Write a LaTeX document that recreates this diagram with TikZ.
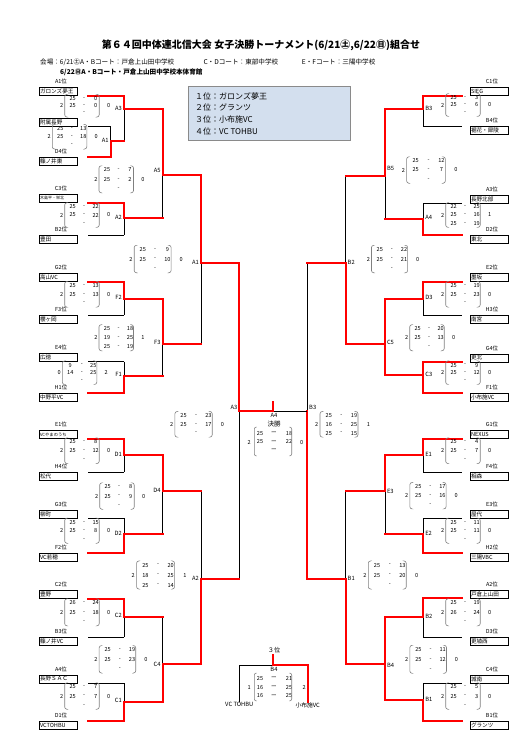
\documentclass[tikz,border=0pt]{standalone}
\usepackage{fontspec}
\setmainfont{Noto Sans CJK JP}
\definecolor{legendblue}{HTML}{D3DFEE}
\definecolor{legendedge}{HTML}{8A8A8A}
\definecolor{bracketred}{HTML}{FF0000}
\tikzset{
 win/.style={draw=bracketred, line width=1.8pt, line cap=rect},
 lose/.style={draw=black, line width=0.7pt},
 team/.style={draw, line width=0.8pt, minimum width=38pt, minimum height=8pt, inner xsep=1pt, inner ysep=0pt, text width=36pt, align=left, font=\fontsize{5.6}{6}\selectfont},
 rank/.style={font=\fontsize{5.5}{6}\selectfont, inner sep=0pt},
 mlab/.style={font=\fontsize{5.8}{6}\selectfont, inner sep=0.5pt},
 sc/.style={font=\fontsize{5.6}{6}\selectfont, inner sep=0pt},
 paren/.style={draw=gray, line width=0.6pt, rounded corners=2.2pt},
 sub/.style={font=\fontsize{6.6}{7}\selectfont, inner sep=0pt},
 leg/.style={font=\fontsize{8}{9}\selectfont, inner sep=0pt},
}
\newcommand{\teamL}[5]{%
  \node[team,anchor=#3] (#1) at (58,#2) {#5};
  \path (#1.north) ++(3,-5.5) node[rank] {#4};
  \coordinate (#1l) at (88,#2);}
\newcommand{\teamR}[5]{%
  \node[team,anchor=#3] (#1) at (489,#2) {#5};
  \path (#1.north) ++(3,-5.5) node[rank] {#4};
  \coordinate (#1l) at (461.7,#2);}
\newcommand{\mtch}[7]{%
  \coordinate (#1t) at (#2,#3);
  \coordinate (#1b) at (#2,#4);
  \coordinate (#1o) at (#2,#5);
  \draw[#6] (#1t) -- (#1o);
  \draw[#7] (#1o) -- (#1b);}
\newcommand{\scoreblk}[7]{%
  \begin{scope}[shift={(#1,#2)}]
  \pgfmathsetmacro{\sS}{#4}
  \pgfmathsetmacro{\sH}{#3+4}
  \node[sc] at (0,0) {#5};
  \node[sc] at (47*\sS,0) {#7};
  \foreach \a/\b [count=\i] in {#6} {
    \node[sc] at (11*\sS,{(\i-2)*#3}) {\a};
    \node[sc] at (22.5*\sS,{(\i-2)*#3}) {-};
    \node[sc] at (34*\sS,{(\i-2)*#3}) {\b};}
  \draw[paren] (3*\sS+2,-\sH) -- (3*\sS,-\sH) -- (3*\sS,\sH) -- (3*\sS+2,\sH);
  \draw[paren] (37.5*\sS-2,-\sH) -- (37.5*\sS,-\sH) -- (37.5*\sS,\sH) -- (37.5*\sS-2,\sH);
  \end{scope}}
\begin{document}
\begin{tikzpicture}[x=1pt,y=-1pt]
\useasboundingbox (0,0) rectangle (526,747);
% header
\node[font=\bfseries\fontsize{10}{12}\selectfont] (title) at (261,45.7) {第６４回中体連北信大会 女子決勝トーナメント(6/21㊏,6/22㊐)組合せ};
\node[sub,anchor=west] (s1) at (40,62.3) {会場：6/21㊏A・Bコート：戸倉上山田中学校};
\node[sub,anchor=west] (s2) at (203.3,62.3) {C・Dコート：東部中学校};
\node[sub,anchor=west] (s3) at (301.7,62.3) {E・Fコート：三陽中学校};
\node[sub,anchor=west,font=\bfseries\fontsize{6.6}{7}\selectfont] (s4) at (60,72.3) {6/22㊐A・Bコート・戸倉上山田中学校本体育館};
% legend
\node[draw=legendedge, fill=legendblue, line width=1pt, minimum width=162pt, minimum height=54pt, inner sep=0pt, anchor=north west] (legend) at (188.3,86) {};
\node[leg,anchor=west] (r1) at (195,96) {１位：ガロンズ夢王};
\node[leg,anchor=west] (r2) at (195,107.8) {２位：グランツ};
\node[leg,anchor=west] (r3) at (195,119.5) {３位：小布施VC};
\node[leg,anchor=west] (r4) at (195,131.2) {４位：VC TOHBU};
% left teams
\teamL{L1}{96}{south}{A1位}{ガロンズ夢王}
\teamL{L2}{126.7}{south}{}{附属長野}
\teamL{L3}{156.7}{north}{D4位}{篠ノ井東}
\teamL{L4}{202.7}{south}{C3位}{{\fontsize{4}{4}\selectfont 木島平・栄北}}
\teamL{L5}{235}{north}{B2位}{豊田}
\teamL{L6}{281.7}{south}{G2位}{高山VC}
\teamL{L7}{315}{north}{F3位}{櫻ヶ岡}
\teamL{L8}{361.7}{south}{E4位}{広徳}
\teamL{L9}{392.7}{north}{H1位}{中野平VC}
\teamL{L10}{439}{south}{E1位}{{\fontsize{4.3}{4.3}\selectfont VCやまのうち}}
\teamL{L11}{472.3}{north}{H4位}{松代}
\teamL{L12}{518.3}{south}{G3位}{柳町}
\teamL{L13}{552.7}{north}{F2位}{VC若穂}
\teamL{L14}{599}{south}{C2位}{豊野}
\teamL{L15}{637.3}{north}{B3位}{篠ノ井VC}
\teamL{L16}{683.3}{south}{A4位}{長野ＳＡＣ}
\teamL{L17}{721}{north}{D1位}{VCTOHBU}
% right teams
\teamR{R1}{95.7}{south}{C1位}{SIEG}
\teamR{R2}{126}{north}{B4位}{裾花・犀陵}
\teamR{R3}{203.3}{south}{A3位}{長野北部}
\teamR{R4}{235}{north}{D2位}{東北}
\teamR{R5}{281.7}{south}{E2位}{墨坂}
\teamR{R6}{315}{north}{H3位}{南宮}
\teamR{R7}{362.3}{south}{G4位}{更北}
\teamR{R8}{392.7}{north}{F1位}{小布施VC}
\teamR{R9}{439}{south}{G1位}{NEXUS}
\teamR{R10}{472.3}{north}{F4位}{相森}
\teamR{R11}{518.3}{south}{E3位}{屋代}
\teamR{R12}{552.7}{north}{H2位}{三陽VBC}
\teamR{R13}{598.3}{south}{A2位}{戸倉上山田}
\teamR{R14}{637.3}{north}{D3位}{更埴西}
\teamR{R15}{683.3}{south}{C4位}{城南}
\teamR{R16}{720.7}{north}{B1位}{グランツ}
% left matches
\mtch{mA3}{124}{96}{141}{109}{win}{lose}
\mtch{mA1}{110.7}{126.7}{156.7}{141}{lose}{win}
\mtch{mA2}{124}{202.7}{235}{218.3}{win}{lose}
\mtch{mA5}{162.7}{109}{218.3}{175}{win}{lose}
\mtch{mF2}{124}{281.7}{315}{299.3}{win}{lose}
\mtch{mF1}{124}{361.7}{392.7}{375.7}{lose}{win}
\mtch{mF3}{162.7}{299.3}{375.7}{344}{win}{lose}
\mtch{mAA1}{201}{175}{344}{262.7}{win}{lose}
\mtch{mD1}{124}{439}{472.3}{455}{win}{lose}
\mtch{mD2}{124}{518.3}{552.7}{534.3}{lose}{win}
\mtch{mD4}{162.7}{455}{534.3}{490.7}{win}{lose}
\mtch{mC2}{124}{599}{637.3}{616.7}{win}{lose}
\mtch{mC1}{124}{683.3}{721}{701.7}{lose}{win}
\mtch{mC4}{162.7}{616.7}{701.7}{664.3}{lose}{win}
\mtch{mAA2}{201}{490.7}{664.3}{579.3}{lose}{win}
\mtch{mAA3}{239.3}{262.7}{579.3}{411}{win}{lose}
% right matches
\mtch{mB3}{423.3}{95.7}{126}{109}{win}{lose}
\mtch{mA4}{423.3}{203.3}{235}{219}{lose}{win}
\mtch{mB5}{385}{109}{219}{176}{win}{lose}
\mtch{mD3}{423.3}{281.7}{315}{299.3}{win}{lose}
\mtch{mC3}{423.3}{362.3}{392.7}{375}{win}{win}
\mtch{mC5}{385}{299.3}{375}{344}{win}{win}
\mtch{mBB2}{345.7}{176}{344}{262.7}{lose}{win}
\mtch{mE1}{423.3}{439}{472.3}{455}{win}{lose}
\mtch{mE2}{423.3}{518.3}{552.7}{534.3}{lose}{win}
\mtch{mE3}{385}{455}{534.3}{490.7}{win}{lose}
\mtch{mB2}{423.3}{598.3}{637.3}{616.7}{win}{lose}
\mtch{mB1}{423.3}{683.3}{720.7}{700}{lose}{win}
\mtch{mB4}{385}{616.7}{700}{664.3}{win}{win}
\mtch{mBB1}{345.7}{490.7}{664.3}{579.3}{lose}{win}
\mtch{mBB3}{307.3}{262.7}{579.3}{411}{lose}{win}
% team lines left
\draw[win] (L1l) -- (mA3t);   \draw[lose] (L2l) -- (mA1t);  \draw[win] (L3l) -- (mA1b);
\draw[win] (L4l) -- (mA2t);   \draw[lose] (L5l) -- (mA2b);
\draw[win] (L6l) -- (mF2t);   \draw[lose] (L7l) -- (mF2b);
\draw[lose] (L8l) -- (mF1t);  \draw[win] (L9l) -- (mF1b);
\draw[win] (L10l) -- (mD1t);  \draw[lose] (L11l) -- (mD1b);
\draw[lose] (L12l) -- (mD2t); \draw[win] (L13l) -- (mD2b);
\draw[win] (L14l) -- (mC2t);  \draw[lose] (L15l) -- (mC2b);
\draw[lose] (L16l) -- (mC1t); \draw[win] (L17l) -- (mC1b);
% team lines right
\draw[win] (R1l) -- (mB3t);   \draw[lose] (R2l) -- (mB3b);
\draw[lose] (R3l) -- (mA4t);  \draw[win] (R4l) -- (mA4b);
\draw[win] (R5l) -- (mD3t);   \draw[lose] (R6l) -- (mD3b);
\draw[win] (R7l) -- (mC3t);   \draw[win] (R8l) -- (mC3b);
\draw[win] (R9l) -- (mE1t);   \draw[lose] (R10l) -- (mE1b);
\draw[lose] (R11l) -- (mE2t); \draw[win] (R12l) -- (mE2b);
\draw[win] (R13l) -- (mB2t);  \draw[lose] (R14l) -- (mB2b);
\draw[lose] (R15l) -- (mB1t); \draw[win] (R16l) -- (mB1b);
% winners' lines between rounds
\foreach \s/\d in {mA1o/mA3b, mA3o/mA5t, mA2o/mA5b, mA5o/mAA1t, mF2o/mF3t, mF1o/mF3b, mF3o/mAA1b, mAA1o/mAA3t,
  mD1o/mD4t, mD2o/mD4b, mD4o/mAA2t, mC2o/mC4t, mC1o/mC4b, mC4o/mAA2b, mAA2o/mAA3b,
  mB3o/mB5t, mA4o/mB5b, mB5o/mBB2t, mD3o/mC5t, mC3o/mC5b, mC5o/mBB2b, mBB2o/mBB3t,
  mE1o/mE3t, mE2o/mE3b, mE3o/mBB1t, mB2o/mB4t, mB1o/mB4b, mB4o/mBB1b, mBB1o/mBB3b}
  \draw[win] (\s) -- (\d);
% final
\coordinate (fm) at (273.3,411);
\coordinate (ftop) at (273.3,401.7);
\draw[lose] (fm) -- (mBB3o);
\draw[win] (mAA3o) -- (fm) -- (ftop);
% third place
\node[mlab,font=\fontsize{6.2}{7}\selectfont] (t3lab) at (274,650) {３位};
\node[mlab] (t3b4) at (274,669) {B4};
\node[mlab,anchor=north] (t3L) at (239.3,701.7) {VC TOHBU};
\node[mlab,anchor=north] (t3R) at (307.7,701.7) {小布施VC};
\coordinate (t3M) at (272.7,665);
\coordinate (t3top) at (272.7,655.3);
\draw[lose] (t3L.north) |- (t3M);
\draw[win] (t3R.north) |- (t3M) -- (t3top);
% match labels left
\foreach \t/\x/\y in {A3/122.5/108, A1/109.3/140.2, A2/122.5/217.3, F2/122.5/297.7, F1/122.5/374.8,
  D1/122.5/454.5, D2/122.5/533.8, C2/122.5/615.7, C1/122.5/700.5,
  A5/161.3/170.5, F3/161.3/342.5, D4/161.3/490, C4/161.3/664.5, A1/199.6/262, A2/199.6/578.7}
  \node[mlab,anchor=east] at (\x,\y) {\t};
\node[mlab,anchor=south east] at (238,410) {A3};
% match labels right
\foreach \t/\x/\y in {B3/424.6/108.5, A4/424.6/217.3, D3/424.6/297.7, C3/424.6/374.8,
  E1/424.6/454.5, E2/424.6/533.8, B2/424.6/616, B1/424.6/699.5,
  B5/386.3/168.3, C5/386.3/342.5, E3/386.3/491.5, B4/386.3/665.5, B2/347/262, B1/347/578.7}
  \node[mlab,anchor=west] at (\x,\y) {\t};
\node[mlab,anchor=south west] at (308.5,410) {B3};
\node[mlab] (flab) at (274,415) {A4};
\node[mlab,font=\fontsize{6.5}{7}\selectfont] (fkessho) at (274,424.5) {決勝};
% scores left
\scoreblk{61.7}{105.7}{7.3}{1}{2}{25/0,25/0,{}/{}}{0}
\scoreblk{49.3}{136.7}{8.3}{1}{2}{25/13,25/18,{}/{}}{0}
\scoreblk{96}{179.3}{9.5}{1}{2}{25/7,25/2,{}/{}}{0}
\scoreblk{61.7}{215}{8.3}{1}{2}{25/22,25/22,{}/{}}{0}
\scoreblk{131}{259}{9.7}{1.07}{2}{25/9,25/10,{}/{}}{0}
\scoreblk{61.7}{294.3}{8.8}{1}{2}{25/13,25/13,{}/{}}{0}
\scoreblk{96}{337.7}{9}{1}{2}{25/18,19/25,25/19}{1}
\scoreblk{59.3}{372.7}{7.7}{1}{0}{9/25,14/25,{}/{}}{2}
\scoreblk{61.7}{450.7}{8.8}{1}{2}{25/8,25/12,{}/{}}{0}
\scoreblk{96.7}{496}{9.2}{1}{2}{25/8,25/9,{}/{}}{0}
\scoreblk{61.7}{530.7}{8.5}{1}{2}{25/15,25/8,{}/{}}{0}
\scoreblk{171.7}{424.3}{8.8}{1.08}{2}{25/23,25/17,{}/{}}{0}
\scoreblk{133.3}{575}{10}{1.1}{2}{25/20,18/25,25/14}{1}
\scoreblk{61.7}{612.3}{9.5}{1}{2}{26/24,25/18,{}/{}}{0}
\scoreblk{96}{659.3}{9.7}{1.06}{2}{25/19,25/23,{}/{}}{0}
\scoreblk{61.7}{696}{9.2}{1}{2}{25/7,25/7,{}/{}}{0}
% scores right
\scoreblk{442.7}{105}{7.3}{1}{2}{25/3,25/6,{}/{}}{0}
\scoreblk{442.7}{215}{8.3}{1}{2}{22/25,25/16,25/19}{1}
\scoreblk{403.3}{170}{9.2}{1.12}{2}{25/12,25/7,{}/{}}{0}
\scoreblk{368.3}{259}{9.7}{1.05}{2}{25/22,25/21,{}/{}}{0}
\scoreblk{442.7}{294.3}{8.8}{1}{2}{25/19,25/23,{}/{}}{0}
\scoreblk{406.7}{337.7}{9}{1}{2}{25/20,25/13,{}/{}}{0}
\scoreblk{442.7}{372.7}{7.7}{1}{2}{25/9,25/12,{}/{}}{0}
\scoreblk{442.7}{450.7}{8.8}{1}{2}{25/4,25/7,{}/{}}{0}
\scoreblk{406.7}{495.7}{9.2}{1.05}{2}{25/17,25/16,{}/{}}{0}
\scoreblk{442.7}{530.7}{8.5}{1}{2}{25/11,25/11,{}/{}}{0}
\scoreblk{365}{575}{10}{1.1}{2}{25/13,25/20,{}/{}}{0}
\scoreblk{442.7}{612.3}{9.5}{1}{2}{25/19,26/24,{}/{}}{0}
\scoreblk{406.7}{659.3}{10}{1.06}{2}{25/11,25/12,{}/{}}{0}
\scoreblk{442.7}{696}{9.2}{1}{2}{25/5,25/3,{}/{}}{0}
\scoreblk{316.7}{424.3}{8.8}{1.1}{2}{25/19,16/25,25/15}{1}
% final score
\foreach \a/\b [count=\i] in {25/18,25/22,{}/{}} {
  \node[sc] at (260,{433.3+(\i-1)*8.6}) {\a};
  \node[sc] at (274,{433.3+(\i-1)*8.6}) {ー};
  \node[sc] at (289,{433.3+(\i-1)*8.6}) {\b};}
\node[sc] at (249.3,442) {2};
\node[sc] at (301.7,442) {0};
\draw[paren] (256.5,427) -- (254.3,427) -- (254.3,456) -- (256.5,456);
\draw[paren] (289.5,427) -- (291.7,427) -- (291.7,456) -- (289.5,456);
% third place score
\foreach \a/\b [count=\i] in {25/21,16/25,16/25} {
  \node[sc] at (260,{678.3+(\i-1)*8.8}) {\a};
  \node[sc] at (274,{678.3+(\i-1)*8.8}) {ー};
  \node[sc] at (289,{678.3+(\i-1)*8.8}) {\b};}
\node[sc] at (249.3,687.3) {1};
\node[sc] at (304.3,687.3) {2};
\draw[paren] (256.5,673) -- (254.3,673) -- (254.3,701) -- (256.5,701);
\draw[paren] (289.5,673) -- (291.7,673) -- (291.7,701) -- (289.5,701);
\end{tikzpicture}
\end{document}
